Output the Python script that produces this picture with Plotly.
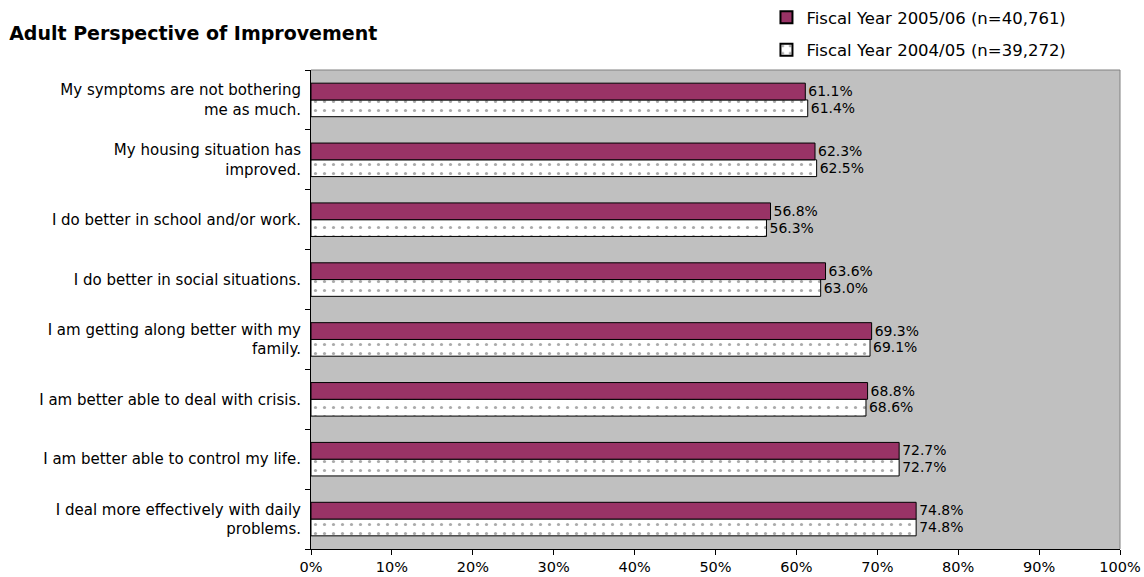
import plotly.graph_objects as go

# Survey items, listed bottom to top as drawn on the category axis
categories = [
    "I deal more effectively with daily<br>problems.",
    "I am better able to control my life.",
    "I am better able to deal with crisis.",
    "I am getting along better with my<br>family.",
    "I do better in social situations.",
    "I do better in school and/or work.",
    "My housing situation has<br>improved.",
    "My symptoms are not bothering<br>me as much.",
]
fy_2005_06 = [74.8, 72.7, 68.8, 69.3, 63.6, 56.8, 62.3, 61.1]
fy_2004_05 = [74.8, 72.7, 68.6, 69.1, 63.0, 56.3, 62.5, 61.4]
x_ticks = [0, 10, 20, 30, 40, 50, 60, 70, 80, 90, 100]
x_tick_labels = [f"{t}%" for t in x_ticks]

font_family = "DejaVu Sans, Verdana, sans-serif"

fig = go.Figure()

fig.add_trace(go.Bar(
    y=categories, x=fy_2004_05, orientation="h",
    name="Fiscal Year 2004/05 (n=39,272)",
    legendgroup="b", legendrank=2,
    marker=dict(color="white", line=dict(color="black", width=1),
                pattern=dict(shape=".", fgcolor="#555555", bgcolor="white",
                             size=9, solidity=0.1)),
    text=[f"{v:.1f}%" for v in fy_2004_05], textposition="outside",
    textfont=dict(size=15, color="black", family=font_family),
    cliponaxis=False,
))
fig.add_trace(go.Bar(
    y=categories, x=fy_2005_06, orientation="h",
    name="Fiscal Year 2005/06 (n=40,761)",
    legendgroup="a", legendrank=1,
    marker=dict(color="#993366", line=dict(color="black", width=1)),
    text=[f"{v:.1f}%" for v in fy_2005_06], textposition="outside",
    textfont=dict(size=15, color="black", family=font_family),
    cliponaxis=False,
))

fig.update_layout(
    width=1144, height=577,
    margin=dict(l=311, r=24, t=70, b=28),
    paper_bgcolor="white", plot_bgcolor="#C0C0C0",
    barmode="group", bargap=0.44, bargroupgap=0,
    font=dict(family=font_family, size=15, color="black"),
    title=dict(text="<b>Adult Perspective of Improvement</b>",
               x=0.008, xanchor="left", y=0.943, yanchor="middle",
               font=dict(size=19, family=font_family)),
    legend=dict(x=0.563, xref="paper", y=1.0, yref="container",
                xanchor="left", yanchor="top",
                traceorder="grouped", tracegroupgap=8,
                font=dict(size=16.5, family=font_family),
                itemsizing="constant", itemwidth=30,
                bgcolor="rgba(0,0,0,0)"),
)

fig.update_xaxes(
    range=[0, 100], tickvals=x_ticks, ticktext=x_tick_labels,
    showgrid=False, zeroline=False, automargin=False,
    showline=True, linecolor="black", linewidth=1,
    ticks="outside", ticklen=5, tickcolor="black",
    tickfont=dict(size=14.5), ticklabelstandoff=0,
)
fig.update_yaxes(
    categoryorder="array", categoryarray=categories, automargin=False,
    showgrid=False, showline=True, linecolor="black", linewidth=1,
    ticks="outside", ticklen=5, tickcolor="black", tickson="boundaries",
    tickfont=dict(size=15), ticklabelstandoff=6,
)

# gray frame along the top and right edges of the plotting area
fig.add_shape(type="line", xref="paper", yref="paper",
              x0=0, x1=1, y0=1, y1=1, line=dict(color="#808080", width=1))
fig.add_shape(type="line", xref="paper", yref="paper",
              x0=1, x1=1, y0=0, y1=1, line=dict(color="#808080", width=1))

fig.write_html("out.html")
